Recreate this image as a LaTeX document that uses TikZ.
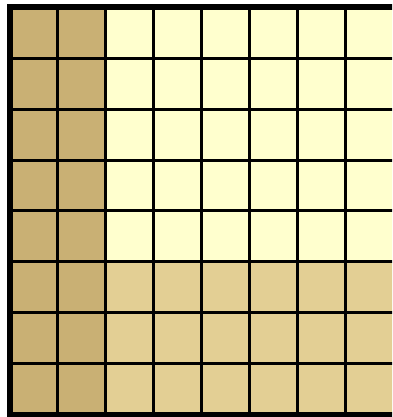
\documentclass[tikz,border=0pt]{standalone}
\definecolor{darktan}{RGB}{201,176,116}
\definecolor{lightyellow}{RGB}{255,255,206}
\definecolor{midtan}{RGB}{227,207,148}
\begin{document}
\begin{tikzpicture}[x=1pt,y=-1pt,
  gridline/.style={line width=3pt,black},
  borderline/.style={line width=6pt,black}]
\useasboundingbox (0,0) rectangle (392,417);
\clip (0,0) rectangle (392,417);
\fill[white] (0,0) rectangle (392,417);
\def\xa{9.7}\def\dx{48}\def\ya{7.3}\def\dy{50.9}\def\xr{400}
% fills
\fill[darktan] (\xa,\ya) rectangle ({\xa+2*\dx},{\ya+8*\dy});
\fill[lightyellow] ({\xa+2*\dx},\ya) rectangle (\xr,{\ya+5*\dy});
\fill[midtan] ({\xa+2*\dx},{\ya+5*\dy}) rectangle (\xr,{\ya+8*\dy});
% interior grid
\foreach \i in {1,...,7}
  \draw[gridline] ({\xa+\i*\dx},\ya) -- ({\xa+\i*\dx},{\ya+8*\dy});
\foreach \j in {1,...,7}
  \draw[gridline] (\xa,{\ya+\j*\dy}) -- (\xr,{\ya+\j*\dy});
% border
\draw[borderline] (\xr,\ya) -- (\xa,\ya) -- (\xa,{\ya+8*\dy}) -- (\xr,{\ya+8*\dy});
\end{tikzpicture}
\end{document}
